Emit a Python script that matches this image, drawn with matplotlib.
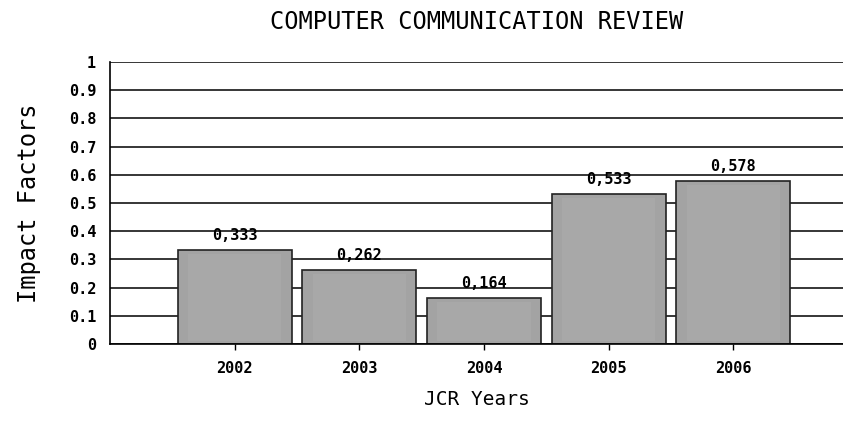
import matplotlib.pyplot as plt
import numpy as np

# --- data ---
years = ['2002', '2003', '2004', '2005', '2006']
impact = [0.333, 0.262, 0.164, 0.533, 0.578]
bar_labels = ['0,333', '0,262', '0,164', '0,533', '0,578']
yticks = [0, 0.1, 0.2, 0.3, 0.4, 0.5, 0.6, 0.7, 0.8, 0.9, 1]
ytick_labels = ['0', '0.1', '0.2', '0.3', '0.4', '0.5', '0.6', '0.7', '0.8', '0.9', '1']

plt.rcParams['font.family'] = 'DejaVu Sans Mono'

fig = plt.figure(figsize=(8.43, 4.32), dpi=100)
ax = fig.add_axes([110 / 843, 1 - 344 / 432, 1 - 110 / 843, (344 - 62) / 432])

x = np.arange(len(years))
ax.set_axisbelow(True)
ax.grid(axis='y', color='black', linewidth=1.1)
ax.bar(x, impact, width=0.915, color='#a3a3a3', edgecolor='#222222', linewidth=1.2, zorder=2)
# subtle inner panel of each bar
ax.bar(x, np.array(impact) - 0.025, bottom=0.01, width=0.75, color='#a8a8a8',
       linewidth=0, zorder=3)

for xi, v, lab in zip(x, impact, bar_labels):
    ax.annotate(lab, (xi, v), textcoords='offset points', xytext=(0, 5),
                ha='center', va='bottom', fontsize=11, fontweight='bold', zorder=4)

ax.set_xlim(-1.0, 4.88)
ax.set_ylim(0, 1)
ax.set_xticks(x)
ax.set_xticklabels(years, fontsize=11, fontweight='bold')
ax.set_yticks(yticks)
ax.set_yticklabels(ytick_labels, fontsize=11, fontweight='bold')
ax.tick_params(axis='y', length=0, pad=10)
ax.tick_params(axis='x', length=4, width=1, pad=8, direction='out')

for s in ['top', 'right']:
    ax.spines[s].set_visible(False)
ax.spines['left'].set_linewidth(1.2)
ax.spines['bottom'].set_linewidth(1.2)

ax.set_title('COMPUTER COMMUNICATION REVIEW', fontsize=17, pad=24)
ax.set_xlabel('JCR Years', fontsize=14, labelpad=10)
ax.set_ylabel('Impact Factors', fontsize=17, labelpad=20)

plt.savefig('out.png', dpi=100)
